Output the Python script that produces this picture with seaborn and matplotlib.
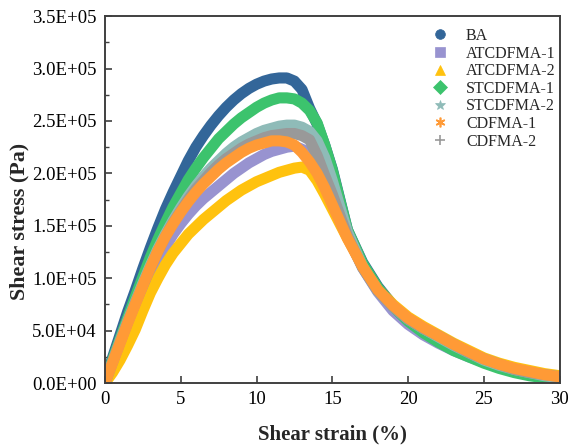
import numpy as np
import pandas as pd
import matplotlib
matplotlib.use('Agg')
import matplotlib.pyplot as plt
from matplotlib.lines import Line2D
from matplotlib.ticker import FuncFormatter, MultipleLocator, AutoMinorLocator
import seaborn as sns

# Shear strain (%) sample points
strain = [0, 0.5, 1, 1.5, 2, 2.5, 3, 3.5, 4, 4.5, 5, 5.5, 6, 6.5, 7, 7.5, 8, 8.5, 9, 9.5,
          10, 10.5, 11, 11.5, 12, 12.5, 13, 13.5, 14, 14.5, 15, 15.5, 16,
          17, 18, 19, 20, 21, 22, 23, 24, 25, 26, 27, 28, 29, 30]

# Shear stress in units of 1E+05 Pa
ba = [0, 0.24, 0.46, 0.68, 0.88, 1.09, 1.29, 1.48, 1.66, 1.82, 1.97, 2.12, 2.25, 2.36, 2.46,
      2.55, 2.63, 2.70, 2.76, 2.81, 2.85, 2.88, 2.90, 2.91, 2.91, 2.88, 2.80, 2.62, 2.47,
      2.27, 2.04, 1.75, 1.46,
      1.15, 0.92, 0.74, 0.60, 0.49, 0.40, 0.32, 0.26, 0.20, 0.15, 0.11, 0.08, 0.06, 0.04]
atcdfma_1 = [0, 0.18, 0.37, 0.54, 0.71, 0.87, 1.03, 1.17, 1.30, 1.42, 1.52, 1.61, 1.69, 1.76,
             1.82, 1.88, 1.94, 2.00, 2.05, 2.10, 2.14, 2.18, 2.21, 2.23, 2.25, 2.26, 2.23,
             2.19, 2.12, 1.99, 1.80, 1.61, 1.42,
             1.10, 0.87, 0.69, 0.56, 0.46, 0.38, 0.31, 0.25, 0.20, 0.16, 0.12, 0.09, 0.07, 0.05]
atcdfma_2 = [0, 0.10, 0.22, 0.36, 0.51, 0.69, 0.86, 1.00, 1.13, 1.24, 1.33, 1.42, 1.49, 1.56,
             1.62, 1.68, 1.74, 1.79, 1.84, 1.88, 1.92, 1.95, 1.98, 2.01, 2.03, 2.05, 2.06,
             2.03, 1.93, 1.80, 1.66, 1.52, 1.38,
             1.12, 0.90, 0.75, 0.63, 0.54, 0.46, 0.38, 0.31, 0.24, 0.19, 0.15, 0.12, 0.09, 0.07]
stcdfma_1 = [0, 0.22, 0.42, 0.62, 0.82, 1.01, 1.20, 1.37, 1.53, 1.68, 1.81, 1.94, 2.05, 2.15,
             2.24, 2.33, 2.40, 2.47, 2.53, 2.58, 2.63, 2.67, 2.70, 2.72, 2.72, 2.71, 2.67,
             2.60, 2.48, 2.27, 2.03, 1.74, 1.46,
             1.14, 0.91, 0.73, 0.59, 0.48, 0.39, 0.31, 0.25, 0.19, 0.14, 0.10, 0.07, 0.05, 0.03]
stcdfma_2 = [0, 0.20, 0.40, 0.59, 0.77, 0.95, 1.12, 1.28, 1.42, 1.55, 1.67, 1.78, 1.88, 1.97,
             2.05, 2.12, 2.19, 2.25, 2.30, 2.34, 2.38, 2.41, 2.43, 2.45, 2.46, 2.46, 2.44,
             2.40, 2.31, 2.15, 1.93, 1.68, 1.44,
             1.11, 0.88, 0.73, 0.61, 0.52, 0.44, 0.36, 0.29, 0.22, 0.17, 0.13, 0.10, 0.07, 0.05]
cdfma_1 = [0, 0.19, 0.38, 0.57, 0.75, 0.93, 1.10, 1.26, 1.40, 1.52, 1.63, 1.73, 1.82, 1.90,
           1.97, 2.04, 2.10, 2.15, 2.20, 2.24, 2.27, 2.29, 2.31, 2.31, 2.30, 2.27, 2.20,
           2.11, 2.00, 1.86, 1.70, 1.54, 1.38,
           1.11, 0.89, 0.74, 0.62, 0.53, 0.45, 0.37, 0.30, 0.23, 0.18, 0.14, 0.11, 0.08, 0.06]
cdfma_2 = [0, 0.20, 0.39, 0.58, 0.76, 0.93, 1.10, 1.26, 1.40, 1.53, 1.64, 1.75, 1.85, 1.93,
           2.01, 2.08, 2.14, 2.19, 2.24, 2.28, 2.31, 2.34, 2.36, 2.37, 2.38, 2.38, 2.36,
           2.32, 2.17, 1.98, 1.80, 1.60, 1.40,
           1.10, 0.88, 0.73, 0.61, 0.52, 0.45, 0.37, 0.29, 0.23, 0.18, 0.13, 0.10, 0.08, 0.06]

labels = ['BA', 'ATCDFMA-1', 'ATCDFMA-2', 'STCDFMA-1', 'STCDFMA-2', 'CDFMA-1', 'CDFMA-2']
series = [ba, atcdfma_1, atcdfma_2, stcdfma_1, stcdfma_2, cdfma_1, cdfma_2]
colors = ['#336699', '#9893d0', '#ffc20e', '#3cc36d', '#8fbbb8', '#ff9a36', '#999999']
markers = ['o', 's', '^', 'D', '*', (6, 2, 0), '+']
palette = dict(zip(labels, colors))

# long-form table for seaborn
rows = []
for lab, vals in zip(labels, series):
    for x, y in zip(strain, vals):
        rows.append({'strain': x, 'stress': y * 1e5, 'sample': lab})
df = pd.DataFrame(rows)

# orange band sits on top of the grey one in the original
draw_order = ['BA', 'ATCDFMA-1', 'ATCDFMA-2', 'STCDFMA-1', 'STCDFMA-2', 'CDFMA-2', 'CDFMA-1']

sns.set_style('ticks')
plt.rcParams['font.family'] = ['Liberation Serif', 'DejaVu Serif']

fig, ax = plt.subplots(figsize=(5.7, 4.47), dpi=100)
fig.subplots_adjust(left=0.184, right=0.982, bottom=0.143, top=0.964)

for lab in draw_order:
    sns.lineplot(data=df[df['sample'] == lab], x='strain', y='stress', color=palette[lab],
                 sort=False, estimator=None, linewidth=8, legend=False, ax=ax,
                 solid_joinstyle='round', solid_capstyle='butt')

ax.set_xlim(0, 30)
ax.set_ylim(0, 3.5e5)
ax.xaxis.set_major_locator(MultipleLocator(5))
ax.yaxis.set_major_locator(MultipleLocator(0.5e5))
ax.yaxis.set_minor_locator(AutoMinorLocator(2))
ax.yaxis.set_major_formatter(FuncFormatter(lambda v, p: f'{v:.1E}'))

for s in ax.spines.values():
    s.set_color('#404040')
    s.set_linewidth(1.4)
ax.tick_params(axis='both', which='both', direction='in', colors='#404040',
               labelcolor='black', labelsize=13.5)
ax.tick_params(which='major', length=5, width=1.2)
ax.tick_params(which='minor', length=3, width=1.0)
ax.tick_params(axis='x', pad=6)
ax.tick_params(axis='y', pad=6)

ax.set_xlabel('Shear strain (%)', fontsize=15, fontweight='bold')
ax.set_ylabel('Shear stress (Pa)', fontsize=15.8, fontweight='bold')
ax.xaxis.set_label_coords(0.5, -0.112)
ax.yaxis.set_label_coords(-0.165, 0.44)

handles = [Line2D([], [], linestyle='none', marker=m, color=c, markersize=7,
                  markeredgewidth=1.2 if m in ['+', (6, 2, 0)] else 0.5)
           for m, c in zip(markers, colors)]
ax.legend(handles, labels, loc='upper left', bbox_to_anchor=(0.706, 0.985),
          frameon=False, fontsize=11.5, handletextpad=1.1, labelspacing=0.1,
          handlelength=1.0, borderaxespad=0)

fig.savefig('out.png', dpi=100)
